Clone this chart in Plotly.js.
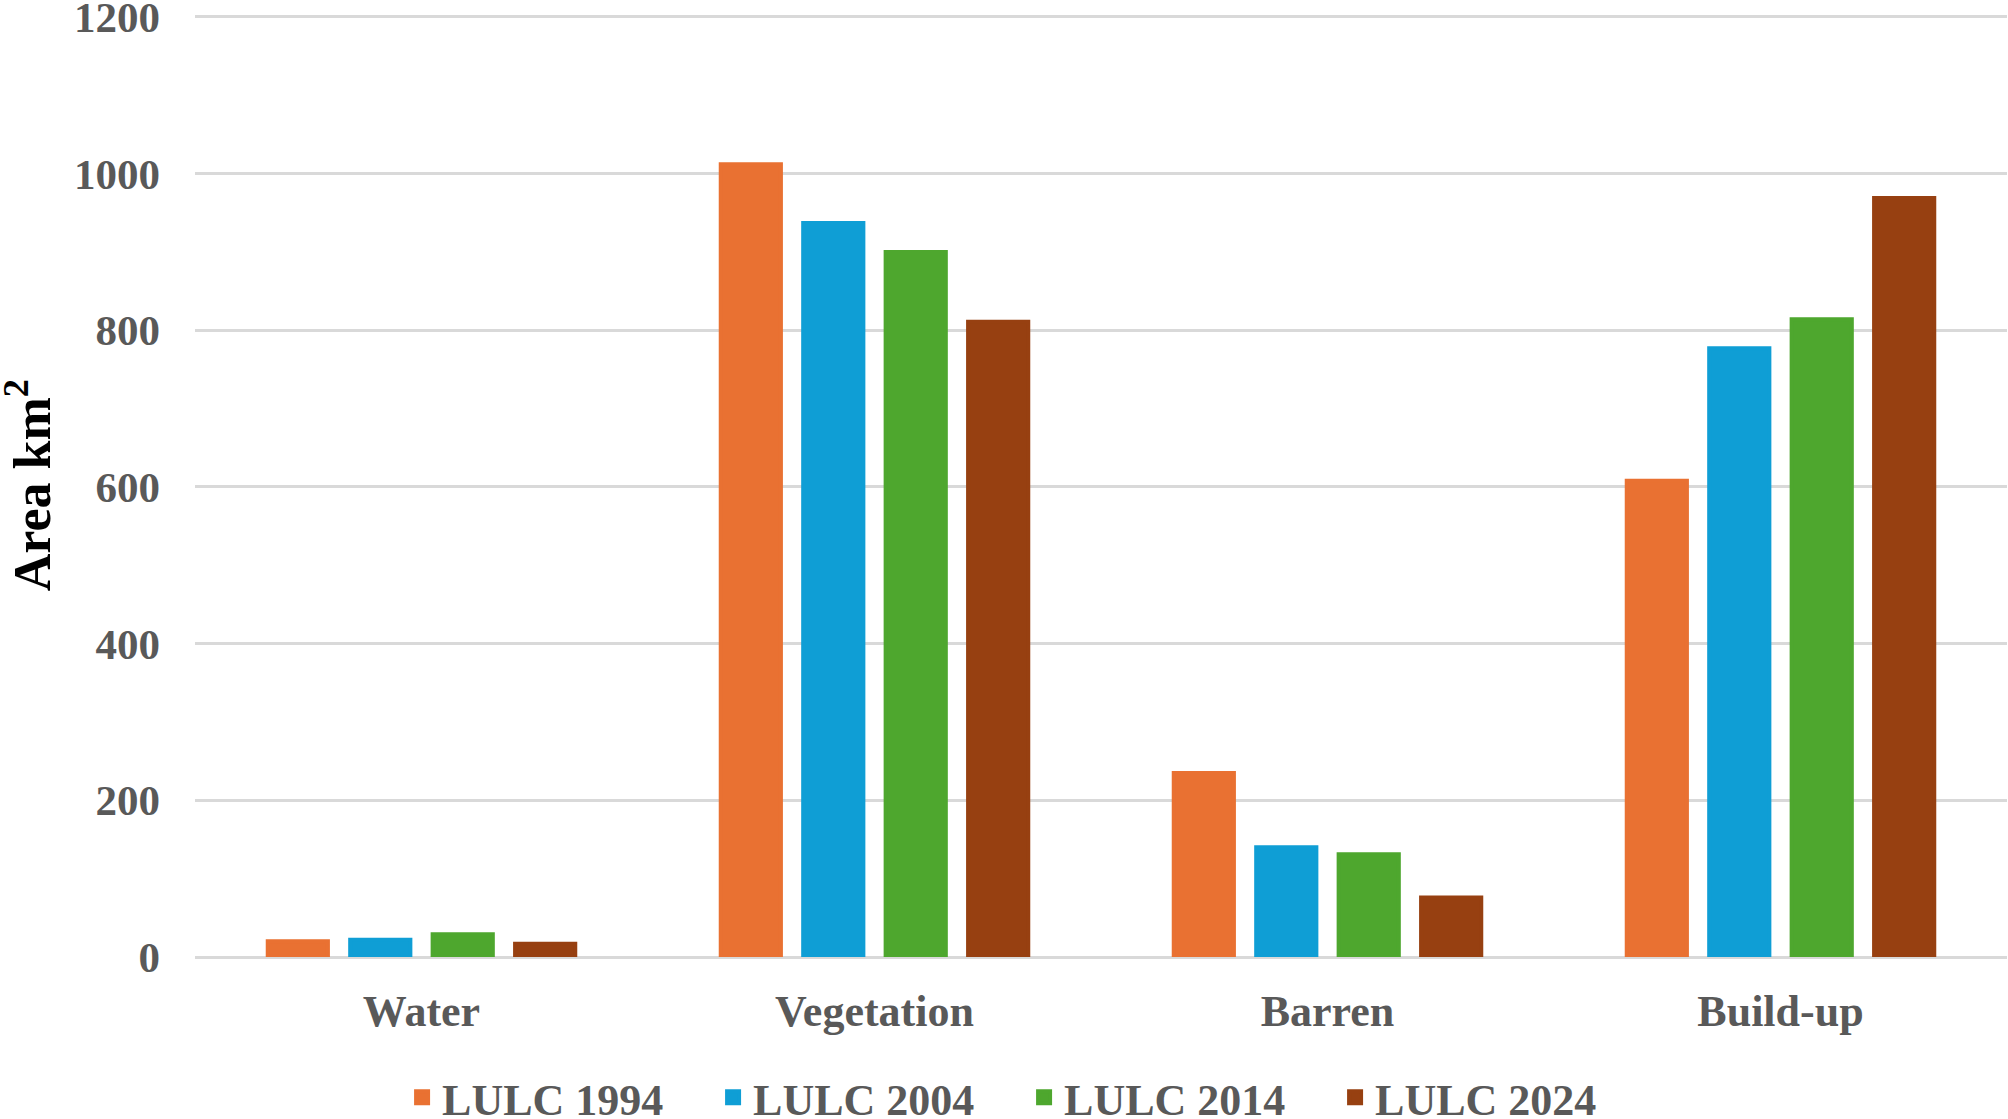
<!DOCTYPE html>
<html>
<head>
<meta charset="utf-8">
<script src="https://cdn.plot.ly/plotly-3.0.1.min.js"></script>
<style>
  html, body { margin: 0; padding: 0; background: #fff; }
  #myDiv { width: 2008px; height: 1119px; }
</style>
</head>
<body>
<div id="myDiv"></div>
<script>
// Land use classes and area per year (km2)
var categories = ['Water', 'Vegetation', 'Barren', 'Build-up'];
var years = ['LULC 1994', 'LULC 2004', 'LULC 2014', 'LULC 2024'];
var lulc1994 = [20, 1012, 235, 608];
var lulc2004 = [22, 937, 140, 777];
var lulc2014 = [29, 900, 131, 814];
var lulc2024 = [17, 811, 76, 969];
var colors = ['#E97132', '#0F9ED5', '#4EA72E', '#974011'];

var series = [lulc1994, lulc2004, lulc2014, lulc2024];
var font = 'Liberation Serif, Times New Roman, serif';

var data = series.map(function(vals, i) {
  return {
    name: years[i],
    x: categories,
    y: vals,
    type: 'bar',
    marker: {color: colors[i], line: {color: colors[i], width: 4}},
    hoverinfo: 'x+y+name'
  };
});

var layout = {
  width: 2008,
  height: 1119,
  paper_bgcolor: '#fff',
  plot_bgcolor: '#fff',
  margin: {l: 195, r: 1, t: 13, b: 162},
  barmode: 'group',
  bargap: 0.272,
  bargroupgap: 0.27,
  font: {family: font, color: '#595959'},
  xaxis: {
    type: 'category',
    showgrid: false,
    showline: false,
    ticks: '',
    ticklabelstandoff: 24,
    tickfont: {family: font, size: 44, color: '#595959', weight: 'bold'}
  },
  yaxis: {
    range: [0, 1205],
    tickvals: [0, 200, 400, 600, 800, 1000, 1200],
    showgrid: true,
    gridcolor: '#D9D9D9',
    gridwidth: 3,
    zeroline: true,
    zerolinecolor: '#D9D9D9',
    zerolinewidth: 3,
    showline: false,
    ticks: '',
    ticklabelstandoff: 34,
    ticklabeloverflow: 'allow',
    tickfont: {family: font, size: 43, color: '#595959', weight: 'bold'}
  },
  // y axis title as a rotated annotation, to sit close to the left edge
  annotations: [{
    text: 'Area km<sup>2</sup>',
    xref: 'paper',
    yref: 'paper',
    x: -0.092,
    y: 0.5,
    xanchor: 'center',
    yanchor: 'middle',
    textangle: -90,
    showarrow: false,
    font: {family: font, size: 52, color: '#000', weight: 'bold'}
  }],
  showlegend: true,
  legend: {
    orientation: 'h',
    xref: 'container',
    yref: 'container',
    x: 0.51,
    xanchor: 'center',
    y: 0.019,
    yanchor: 'middle',
    entrywidth: 266,
    font: {family: font, size: 44, color: '#595959', weight: 'bold'}
  }
};

Plotly.newPlot('myDiv', data, layout, {displayModeBar: false, staticPlot: true});
</script>
</body>
</html>
